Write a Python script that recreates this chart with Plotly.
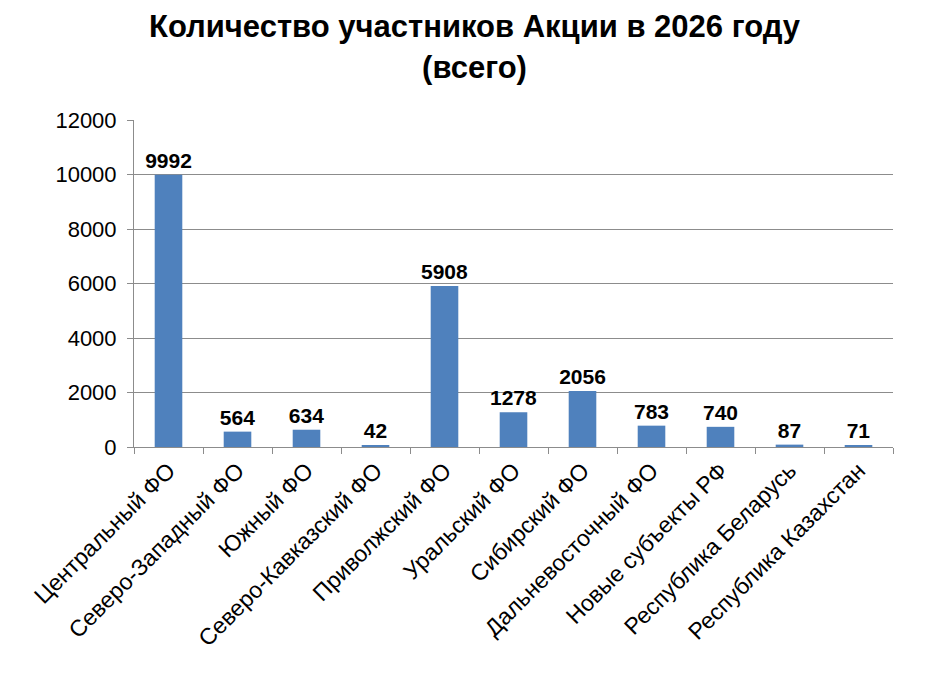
import plotly.graph_objects as go

regions = [
    "Центральный ФО",
    "Северо-Западный ФО",
    "Южный ФО",
    "Северо-Кавказский ФО",
    "Приволжский ФО",
    "Уральский ФО",
    "Сибирский ФО",
    "Дальневосточный ФО",
    "Новые субъекты РФ",
    "Республика Беларусь",
    "Республика Казахстан",
]
participants = [9992, 564, 634, 42, 5908, 1278, 2056, 783, 740, 87, 71]
y_ticks = [0, 2000, 4000, 6000, 8000, 10000, 12000]

BAR = "#4F81BD"
GRID = "#8C8C8C"
TEXT = "#000000"
FONT = "Liberation Sans, Arial, sans-serif"

fig = go.Figure()
fig.add_bar(
    x=regions,
    y=participants,
    marker={"color": BAR, "line": {"width": 0}},
    text=[f"<b>{v}</b>" for v in participants],
    textposition="outside",
    constraintext="none",
    textfont={"size": 21, "color": TEXT, "family": FONT},
    cliponaxis=False,
)

fig.update_layout(
    width=933,
    height=700,
    paper_bgcolor="white",
    plot_bgcolor="white",
    font={"family": FONT, "color": TEXT},
    showlegend=False,
    bargap=0.6,
    margin={"l": 126, "r": 48, "t": 112, "b": 261, "autoexpand": False},
    title={
        "text": "<b>Количество участников Акции в 2026 году<br>(всего)</b>",
        "x": 0.5,
        "xanchor": "center",
        "y": 0.958,
        "yanchor": "top",
        "font": {"size": 31, "color": TEXT, "family": FONT},
    },
)
fig.update_xaxes(
    tickangle=-45,
    tickfont={"size": 23, "color": TEXT},
    showline=True,
    linecolor=GRID,
    linewidth=1,
    ticks="outside",
    tickson="boundaries",
    tickcolor=GRID,
    ticklen=6,
    showgrid=False,
    automargin=False,
)
fig.update_yaxes(
    range=[0, 12000],
    tickvals=y_ticks,
    tickformat="d",
    tickfont={"size": 22, "color": TEXT},
    showline=True,
    linecolor=GRID,
    linewidth=1,
    ticks="outside",
    tickcolor=GRID,
    ticklen=6,
    ticklabelstandoff=6,
    showgrid=True,
    gridcolor=GRID,
    gridwidth=1,
    zeroline=False,
    automargin=False,
)

fig.write_html("out.html")
